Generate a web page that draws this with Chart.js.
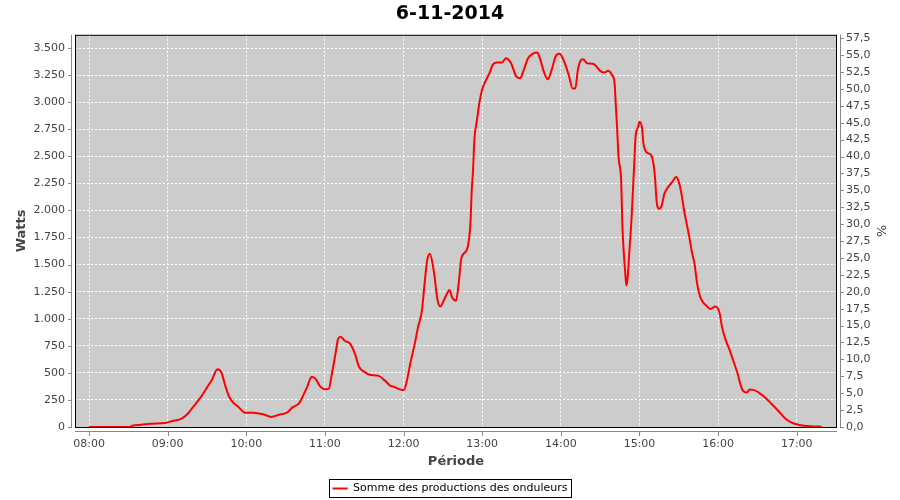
<!DOCTYPE html>
<html lang="fr"><head>
<title>6-11-2014</title>
<meta name="viewport" content="width=device-width, initial-scale=1.0">
<meta charset="utf-8">
<style type="text/css">
body  { margin:0; background-color:#ffffff; }
#wrap { width:900px; height:500px; }
</style>
<script src="https://cdn.jsdelivr.net/npm/chart.js"></script>
<script>

// valeurs (heure, puissance en W)
var heures=["08:00","08:31","08:33","08:40","08:47","08:58","09:03","09:11","09:16","09:18",
  "09:25","09:30","09:34","09:38","09:41","09:44","09:47","09:50","09:54","09:59",
  "10:05","10:13","10:19","10:26","10:31","10:35","10:40","10:42","10:46","10:50",
  "10:53","10:56","11:00","11:03","11:05","11:08","11:10","11:12","11:15","11:19",
  "11:23","11:26","11:31","11:34","11:41","11:46","11:50","11:53","11:57","12:00",
  "12:02","12:05","12:09","12:11","12:14","12:16","12:18","12:20","12:23","12:26",
  "12:28","12:30","12:33","12:35","12:37","12:40","12:42","12:44","12:47","12:49",
  "12:51","12:52","12:53","12:54","12:56","12:58","13:00","13:03","13:06","13:08",
  "13:11","13:15","13:18","13:22","13:26","13:29","13:31","13:35","13:39","13:42",
  "13:44","13:47","13:50","13:53","13:56","13:59","14:02","14:06","14:09","14:11",
  "14:13","14:15","14:17","14:20","14:25","14:30","14:33","14:36","14:39","14:41",
  "14:42","14:43","14:44","14:46","14:47","14:48","14:49","14:50","14:51","14:52",
  "14:54","14:55","14:56","14:57","14:59","15:00","15:02","15:03","15:05","15:07",
  "15:09","15:11","15:12","15:13","15:15","15:17","15:19","15:22","15:25","15:28",
  "15:30","15:32","15:34","15:36","15:38","15:40","15:42","15:44","15:46","15:48",
  "15:51","15:54","15:58","16:01","16:03","16:06","16:09","16:12","16:15","16:17",
  "16:19","16:22","16:24","16:27","16:31","16:36","16:41","16:46","16:51","16:56",
  "17:02","17:10","17:19"];
var watts=[0,0,12,21,31,37,53,80,132,164,
  271,364,442,534,503,380,278,225,185,132,
  132,117,93,117,132,179,216,256,358,465,
  442,380,349,355,472,673,812,834,796,772,
  673,556,503,482,472,426,380,370,349,340,
  400,580,796,920,1074,1321,1537,1600,1446,1167,
  1112,1151,1229,1266,1198,1167,1321,1553,1615,1667,
  1877,2185,2372,2650,2836,3005,3120,3206,3283,3345,
  3366,3366,3406,3360,3237,3221,3274,3406,3452,3459,
  3406,3283,3212,3299,3422,3447,3391,3252,3127,3127,
  3299,3383,3397,3360,3354,3290,3274,3290,3252,3175,
  2959,2743,2496,2280,1847,1615,1446,1307,1383,1569,
  1940,2187,2434,2681,2774,2820,2758,2619,2542,2527,
  2511,2403,2280,2094,2017,2048,2156,2218,2264,2310,
  2264,2156,2002,1878,1754,1615,1507,1322,1213,1160,
  1121,1090,1114,1058,920,796,704,596,488,395,
  333,318,346,343,318,271,210,148,80,40,
  19,6,3];

// graduations
var ticksX=["08:00","09:00","10:00","11:00","12:00","13:00","14:00","15:00","16:00","17:00"];
var ticksW=[0,250,500,750,1000,1250,1500,1750,2000,2250,2500,2750,3000,3250,3500];
var ticksP=[0,2.5,5,7.5,10,12.5,15,17.5,20,22.5,25,27.5,30,32.5,35,37.5,40,42.5,45,47.5,50,52.5,55,57.5];

var titre="6-11-2014";
var serie="Somme des productions des onduleurs";
var titreX="Période";
var titreY="Watts";
var titreY2="%";

function minutes(h) { return h.split(":")[0]*60+h.split(":")[1]*1; }
function hhmm(m) { var h=Math.floor(m/60),n=Math.round(m%60); return (h<10?"0":"")+h+":"+(n<10?"0":"")+n; }
function milliers(v) { return Math.round(v).toString().replace(/\B(?=(\d{3})+(?!\d))/g,"."); }
function pourcent(v) { return v.toFixed(1).replace(".",","); }
function graduer(liste) { return function(s) { s.ticks=liste.map(function(v){ return {value:v}; }); }; }

var police="'DejaVu Sans',sans-serif";

// fond gris, cadre noir et axes gris decales
var cadre={id:'cadre',
  beforeDraw:function(chart) {
    var c=chart.ctx,a=chart.chartArea; c.save();
    c.fillStyle='#cccccc'; c.fillRect(a.left,a.top,a.right-a.left,a.bottom-a.top);
    c.restore(); },
  afterDraw:function(chart) {
    var c=chart.ctx,a=chart.chartArea,s=chart.scales; c.save();
    c.strokeStyle='#000000'; c.lineWidth=1;
    c.strokeRect(a.left+0.5,a.top+0.5,a.right-a.left-1,a.bottom-a.top);
    c.strokeStyle='#888888'; c.beginPath();
    c.moveTo(a.left-3.5,a.top); c.lineTo(a.left-3.5,a.bottom+1);
    c.moveTo(a.right+3.5,a.top); c.lineTo(a.right+3.5,a.bottom+1);
    c.moveTo(a.left,a.bottom+4.5); c.lineTo(a.right,a.bottom+4.5);
    s.y.ticks.forEach(function(t){ var p=Math.round(s.y.getPixelForValue(t.value))+0.5; c.moveTo(a.left-7,p); c.lineTo(a.left-3.5,p); });
    s.y2.ticks.forEach(function(t){ var p=Math.round(s.y2.getPixelForValue(t.value))+0.5; c.moveTo(a.right+3.5,p); c.lineTo(a.right+7,p); });
    s.x.ticks.forEach(function(t){ var p=Math.round(s.x.getPixelForValue(t.value))+0.5; c.moveTo(p,a.bottom+4.5); c.lineTo(p,a.bottom+9); });
    c.stroke();
    var l=chart.legend;
    if (l && l.legendHitBoxes.length) { var b=l.legendHitBoxes[0];
      c.strokeStyle='#000000'; c.strokeRect(Math.round(b.left)-3.5,Math.round(b.top)-3.5,Math.round(b.width)+7,Math.round(b.height)+7); }
    c.restore(); } };

function initChart() {
  var points=[];
  for (var i=0;i<heures.length;i++) { points.push({x:minutes(heures[i]),y:watts[i]}); }

  var data={datasets:[{
    label:serie,data:points,
    borderColor:'#ff0000',backgroundColor:'#ff0000',borderWidth:2,
    pointRadius:0,cubicInterpolationMode:'monotone',yAxisID:'y',xAxisID:'x'}]};

  var config={type:'line',data:data,plugins:[cadre],options:{
    responsive:false,animation:false,
    layout:{padding:{top:0,left:0,right:0,bottom:-4}},
    scales:{
      x:{type:'linear',min:469.3,max:1050.7,
        afterBuildTicks:graduer(ticksX.map(minutes)),afterFit:function(s){ s.height=52; },
        ticks:{callback:function(v){ return hhmm(v); },color:'#444444',font:{family:police,size:11},padding:3,maxRotation:0,autoSkip:false},
        grid:{color:'#ffffff',lineWidth:1,tickLength:8,tickColor:'rgba(0,0,0,0)'},
        border:{display:false,dash:[2,2]},
        title:{display:true,text:titreX,color:'#444444',font:{family:police,size:13,weight:'bold'},padding:{top:0,bottom:10}}},
      y:{type:'linear',position:'left',min:0,max:3623,
        afterBuildTicks:graduer(ticksW),afterFit:function(s){ s.width=75; },
        ticks:{callback:function(v){ return milliers(v); },color:'#444444',font:{family:police,size:11},padding:2,autoSkip:false},
        grid:{color:'#ffffff',lineWidth:1,tickLength:8,tickColor:'rgba(0,0,0,0)'},
        border:{display:false,dash:[2,2]},
        title:{display:true,text:titreY,color:'#444444',font:{family:police,size:13,weight:'bold'},padding:{top:14,bottom:0}}},
      y2:{type:'linear',position:'right',display:true,min:0,max:58,
        afterBuildTicks:graduer(ticksP),afterFit:function(s){ s.width=63; },
        ticks:{callback:function(v){ return pourcent(v); },color:'#444444',font:{family:police,size:11},padding:1,autoSkip:false},
        grid:{drawOnChartArea:false,tickLength:8,tickColor:'rgba(0,0,0,0)'},
        border:{display:false},
        title:{display:true,text:titreY2,color:'#444444',font:{family:police,size:13},padding:{top:12,bottom:0}}}},
    plugins:{
      title:{display:true,text:titre,color:'#000000',font:{family:police,size:19,weight:'bold'},padding:{top:3,bottom:9}},
      legend:{display:true,position:'bottom',
        labels:{usePointStyle:true,pointStyle:'line',pointStyleWidth:15,color:'#000000',font:{family:police,size:11},padding:4}},
      tooltip:{enabled:false}}}};

  new Chart(document.getElementById('graphe'),config); }

</script></head>
<body onload="initChart();">
<div id="wrap"><canvas id="graphe" width="900" height="500"></canvas></div>
</body></html>
